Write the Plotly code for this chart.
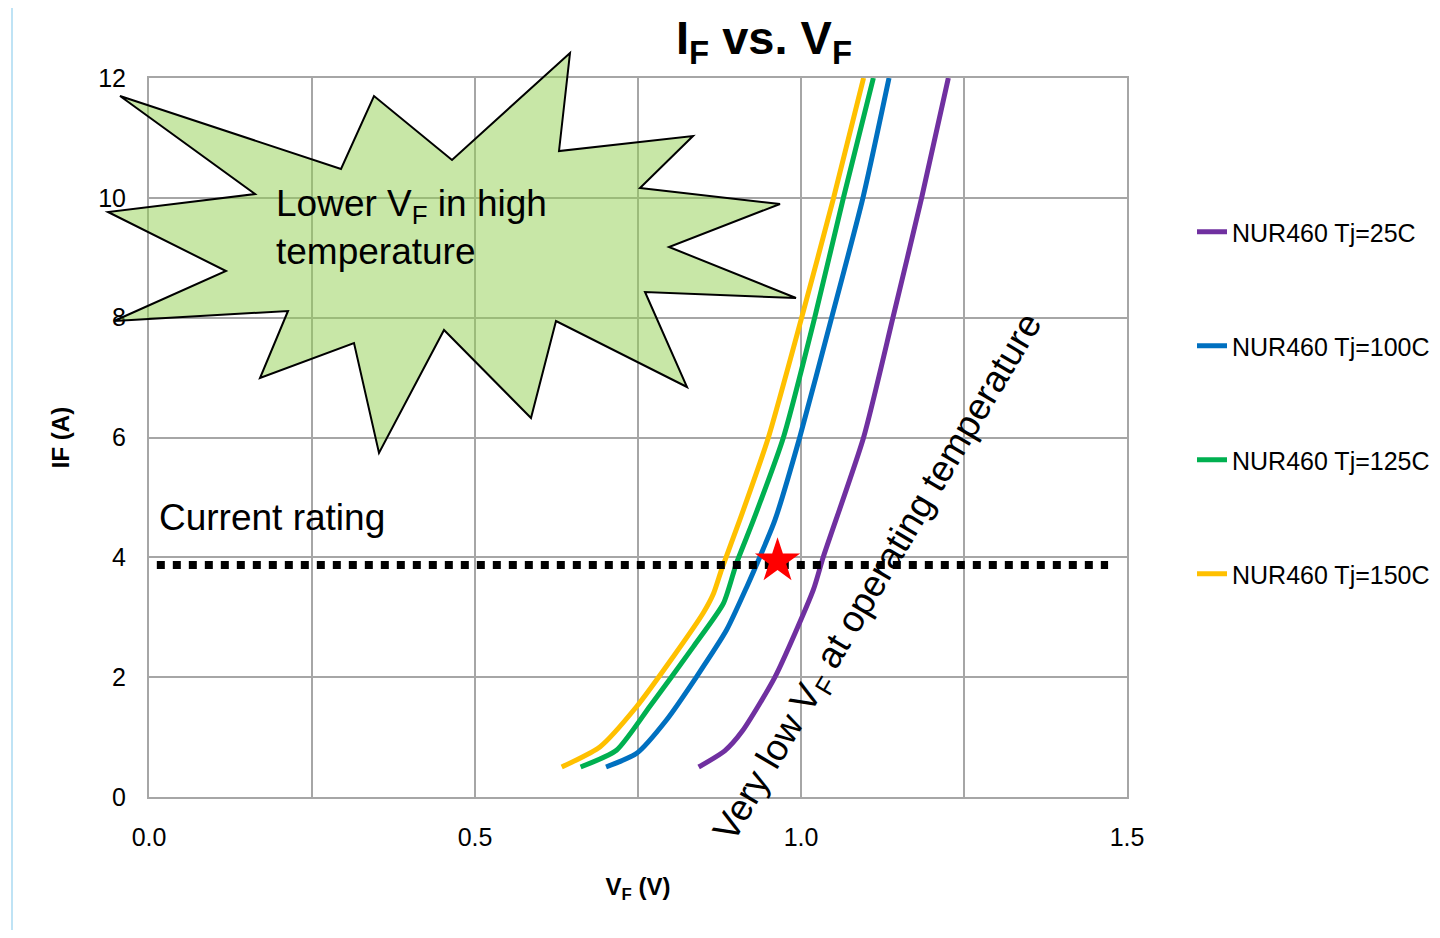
import plotly.graph_objects as go

# ---------------- data ----------------
series_names = ["NUR460 Tj=25C", "NUR460 Tj=100C", "NUR460 Tj=125C", "NUR460 Tj=150C"]

vf_25 = [0.843, 0.883, 0.910, 0.960, 1.019, 1.034, 1.096, 1.141, 1.185, 1.226]
if_25 = [0.50, 0.77, 1.10, 2.00, 3.46, 4.00, 6.00, 8.00, 10.00, 12.00]

vf_100 = [0.701, 0.748, 0.794, 0.840, 0.886, 0.917, 0.937, 0.960, 0.998, 1.047, 1.095, 1.135]
if_100 = [0.50, 0.73, 1.29, 2.01, 2.79, 3.51, 4.01, 4.62, 6.00, 8.00, 10.00, 12.00]

vf_125 = [0.662, 0.717, 0.768, 0.835, 0.881, 0.901, 0.927, 0.973, 1.021, 1.065, 1.111]
if_125 = [0.50, 0.78, 1.51, 2.51, 3.23, 3.90, 4.62, 6.00, 8.00, 10.00, 12.00]

vf_150 = [0.633, 0.692, 0.748, 0.804, 0.850, 0.866, 0.878, 0.906, 0.950, 1.001, 1.050, 1.096]
if_150 = [0.50, 0.84, 1.51, 2.34, 3.07, 3.40, 3.79, 4.62, 6.00, 8.00, 10.00, 12.00]

rating_vf = [0.012, 1.471]
rating_if = [3.87, 3.87]

star_vf = [0.964]
star_if = [3.94]

x_tick_vals = [0.0, 0.5, 1.0, 1.5]
x_tick_text = ["0.0", "0.5", "1.0", "1.5"]
x_minor_vals = [0.25, 0.75, 1.25]
y_tick_vals = [0, 2, 4, 6, 8, 10, 12]

# ---------------- style ----------------
FONT = "Liberation Sans, Arial, sans-serif"
colors = ["#7030A0", "#0070C0", "#00B050", "#FFC000"]
GRID = "#A6A6A6"

OFF = 8  # page body margin in the browser
PAGE_W, PAGE_H = 1440, 938
W, H = PAGE_W - 2 * OFF, PAGE_H - 2 * OFF  # figure fits inside body without overflow
L, R, T, B = 149, 1127, 78, 797  # target plot area in page pixels


def px(x):
    return (x - L) / (R - L)


def py(y):
    return (B - y) / (B - T)


fig = go.Figure()

curves = [(vf_25, if_25), (vf_100, if_100), (vf_125, if_125), (vf_150, if_150)]
for name, (vx, vy), c in zip(series_names, curves, colors):
    fig.add_trace(go.Scatter(
        x=vx, y=vy, mode="lines", name=name, legendgroup=name,
        line=dict(color=c, width=5, shape="spline", smoothing=0.6),
    ))

fig.add_trace(go.Scatter(
    x=rating_vf, y=rating_if, mode="lines", showlegend=False,
    line=dict(color="black", width=8, dash="8px,8px"),
))
fig.add_trace(go.Scatter(
    x=star_vf, y=star_if, mode="markers", showlegend=False,
    marker=dict(symbol="star", size=34, color="#FF0000", line=dict(width=0)),
))

# starburst callout (page-pixel vertices)
burst = [(120, 96), (341, 169), (374, 96), (452, 160), (570, 53), (559, 151),
         (693, 136), (640, 188), (780, 204), (669, 247), (796, 298), (645, 292),
         (687, 387), (556, 321), (531, 418), (444, 330), (379, 453), (354, 343),
         (260, 378), (288, 311), (114, 321), (226, 271), (108, 212), (255, 194)]
path = "M " + " L ".join(f"{px(a):.5f},{py(b):.5f}" for a, b in burst) + " Z"

shapes = [
    dict(type="path", xref="paper", yref="paper", path=path,
         fillcolor="rgba(146,208,80,0.5)", line=dict(color="black", width=2),
         layer="above"),
    # light blue outer frame
    dict(type="rect", xref="paper", yref="paper",
         x0=px(12), x1=px(1470), y0=py(980), y1=py(6),
         line=dict(color="#BFE3F5", width=2), fillcolor="rgba(0,0,0,0)", layer="below"),
]

annotations = [
    dict(text="Lower V<sub>F</sub> in high<br>temperature", x=0.191, y=9.50,
         xref="x", yref="y", xanchor="left", yanchor="middle", align="left",
         showarrow=False, font=dict(family=FONT, size=37, color="black")),
    dict(text="Current rating", x=0.013, y=4.66, xref="x", yref="y",
         xanchor="left", yanchor="middle", showarrow=False,
         font=dict(family=FONT, size=37, color="black")),
    dict(text="Very low V<sub>F</sub> at operating temperature", x=1.120, y=3.66,
         xref="x", yref="y", xanchor="center", yanchor="middle", textangle=-59.3,
         showarrow=False, font=dict(family=FONT, size=37, color="black")),
]

fig.update_layout(
    width=W, height=H,
    margin=dict(l=L - OFF, r=(OFF + W) - R, t=T - OFF, b=(OFF + H) - B, autoexpand=False),
    paper_bgcolor="white", plot_bgcolor="white",
    font=dict(family=FONT, color="black"),
    title=dict(text="I<sub>F</sub> vs. V<sub>F</sub>", x=(764 - OFF) / W, xref="container",
               xanchor="center", y=1 - (38 - OFF) / H, yref="container", yanchor="middle",
               font=dict(family=FONT, size=47, color="black", weight="bold")),
    showlegend=True,
    legend=dict(x=px(1192), y=py(209), xanchor="left", yanchor="top",
                traceorder="grouped", tracegroupgap=78.5,
                font=dict(family=FONT, size=25, color="black"),
                bgcolor="rgba(0,0,0,0)", itemwidth=30),
    shapes=shapes,
    annotations=annotations,
)

fig.update_xaxes(
    range=[0, 1.5], tickvals=x_tick_vals, ticktext=x_tick_text,
    showgrid=True, gridcolor=GRID, gridwidth=2,
    minor=dict(tickvals=x_minor_vals, showgrid=True, gridcolor=GRID, gridwidth=2, ticks=""),
    showline=True, linecolor=GRID, linewidth=2, mirror=True,
    ticks="", ticklabelstandoff=17, zeroline=False,
    tickfont=dict(family=FONT, size=25, color="black"),
    title=dict(text="<b>V<sub>F</sub> (V)</b>", standoff=28,
               font=dict(family=FONT, size=24, color="black")),
)
fig.update_yaxes(
    range=[0, 12], tickvals=y_tick_vals,
    showgrid=True, gridcolor=GRID, gridwidth=2,
    showline=True, linecolor=GRID, linewidth=2, mirror=True,
    ticks="", ticklabelstandoff=16, zeroline=False,
    tickfont=dict(family=FONT, size=25, color="black"),
    title=dict(text="<b>IF (A)</b>", standoff=22,
               font=dict(family=FONT, size=24, color="black")),
)

fig.write_html("out.html")
